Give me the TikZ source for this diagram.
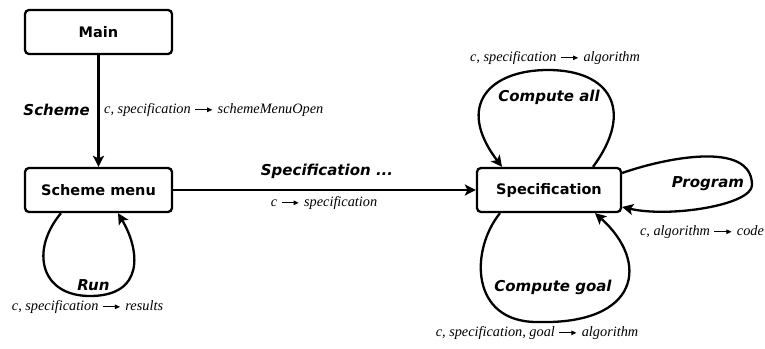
\documentclass[tikz,border=0pt]{standalone}
\usepackage{fontspec}
\setmainfont{Liberation Serif}
\newfontfamily\dvsans{DejaVu Sans}[BoldFont={DejaVu Sans Bold},ItalicFont={DejaVu Sans Oblique},BoldItalicFont={DejaVu Sans Bold Oblique}]
\usetikzlibrary{arrows.meta,calc}
\newsavebox\arbox
\newcommand\sigarrow{\kern0.5pt\usebox\arbox\kern1.5pt}
\tikzset{
  statebox/.style={draw,line width=2.3pt,rounded corners=4pt,minimum width=147pt,minimum height=44pt,inner sep=0pt,font=\dvsans\bfseries\fontsize{14.5}{17}\selectfont},
  actlabel/.style={inner sep=0pt,font=\dvsans\bfseries\itshape\fontsize{15}{18}\selectfont},
  sig/.style={inner sep=0pt,font=\itshape\fontsize{14.3}{17}\selectfont},
  conn/.style={line width=2.3pt,-{Stealth[length=11pt,width=11pt,inset=2.5pt]}},
}
\begin{document}
\sbox\arbox{\begin{pgfpicture}\pgfsetlinewidth{0.8pt}\pgfsetarrowsend{Triangle[length=5pt,width=4.5pt]}\pgfpathmoveto{\pgfpoint{0pt}{3.7pt}}\pgfpathlineto{\pgfpoint{17pt}{3.7pt}}\pgfusepath{stroke}\pgfsetbaseline{0pt}\end{pgfpicture}}%
\begin{tikzpicture}[x=1pt,y=-1pt]
\useasboundingbox[fill=white] (0,0) rectangle (765,348);
% states
\node[statebox] (main) at (98.5,32) {Main};
\node[statebox] (sm) at (98.5,190) {Scheme menu};
\node[statebox,minimum width=144pt] (spec) at (549,190) {Specification};
% Main -> Scheme menu
\draw[conn] (main.south) -- (sm.north);
\node[actlabel,anchor=east] (lscheme) at (90,110) {Scheme};
\node[sig,anchor=west] (sscheme) at (104,110) {c, specification \sigarrow{} schemeMenuOpen};
% Scheme menu -> Specification
\draw[conn] (sm.east) -- (spec.west);
\node[actlabel] (lspec) at (327,171) {Specification ...};
\node[sig] (sspec) at (324,203) {c \sigarrow{} specification};
% Run loop
\coordinate (runA) at ($(sm.south)+(-37.5,0)$);
\coordinate (runB) at ($(sm.south)+(19.5,0)$);
\draw[conn] (runA) .. controls (30,250) and (40,296) .. (90,296)
  .. controls (145,296) and (140,250) .. (runB);
\node[actlabel] (lrun) at (93.5,285) {Run};
\node[sig] (srun) at (87.5,307) {c, specification \sigarrow{} results};
% Compute all loop
\coordinate (caA) at ($(spec.north)+(44,0)$);
\coordinate (caB) at ($(spec.north)+(-47,0)$);
\draw[conn] (caA) .. controls (635,110) and (610,70) .. (548,70)
  .. controls (490,70) and (455,105) .. (caB);
\node[actlabel] (lca) at (549,97) {Compute all};
\node[sig] (sca) at (555,58) {c, specification \sigarrow{} algorithm};
% Program loop
\coordinate (prA) at ($(spec.east)+(0,-17)$);
\coordinate (prB) at ($(spec.east)+(0,17)$);
\draw[conn] (prA) .. controls (665,158) and (752,140) .. (752,185)
  .. controls (752,205) and (670,218) .. (prB);
\node[actlabel] (lpr) at (708,184) {Program};
\node[sig] (spr) at (702,232) {c, algorithm \sigarrow{} code};
% Compute goal loop
\coordinate (cgA) at ($(spec.south)+(-49,0)$);
\coordinate (cgB) at ($(spec.south)+(46,0)$);
\draw[conn] (cgA) .. controls (470,250) and (470,322) .. (537,322)
  .. controls (640,325) and (650,262) .. (cgB);
\node[actlabel] (lcg) at (553,287) {Compute goal};
\node[sig] (scg) at (537,333) {c, specification, goal \sigarrow{} algorithm};
\end{tikzpicture}
\end{document}
